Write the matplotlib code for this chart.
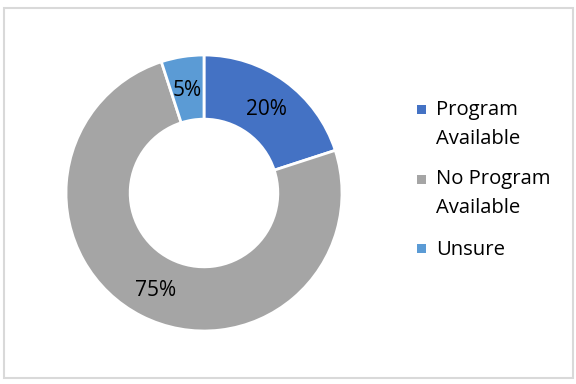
import matplotlib.pyplot as plt
from matplotlib.patches import Rectangle

labels = ["Program\nAvailable", "No Program\nAvailable", "Unsure"]
values = [20, 75, 5]
colors = ["#4472C4", "#A5A5A5", "#5B9BD5"]

plt.rcParams['font.family'] = ['Open Sans', 'DejaVu Sans']

fig = plt.figure(figsize=(5.76, 3.84), dpi=100)

# outer frame
fig.patches.append(Rectangle((3.5 / 576, 1 - 377.5 / 384), 569 / 576, 369.5 / 384,
                             transform=fig.transFigure, fill=False,
                             edgecolor="#D9D9D9", linewidth=1.5))

# donut: centre (204,193) px, outer radius 138 px
ax = fig.add_axes([66 / 576, 53 / 384, 276 / 576, 276 / 384])
wedges, texts, autotexts = ax.pie(
    values, colors=colors, startangle=90, counterclock=False,
    radius=1.0, autopct="%d%%", pctdistance=0.77,
    wedgeprops=dict(width=0.465, edgecolor="white", linewidth=2),
    textprops=dict(fontsize=15, color="#000000"))
for t in autotexts:
    t.set_verticalalignment("center_baseline")
ax.set_xlim(-1, 1)
ax.set_ylim(-1, 1)
ax.set_aspect("equal")
ax.axis("off")

# legend (marker centre y, first baseline y in px)
rows = [(109.5, 115), (179.5, 184), (248, 255)]
for lab, col, (ym, yb) in zip(labels, colors, rows):
    fig.patches.append(Rectangle((417 / 576, 1 - (ym + 4.5) / 384), 9 / 576, 9 / 384,
                                 transform=fig.transFigure, facecolor=col,
                                 edgecolor="none"))
    for i, line in enumerate(lab.split("\n")):
        fig.text(436 / 576, 1 - (yb + 29 * i) / 384, line, fontsize=14.6,
                 va="baseline", ha="left", color="#000000")

fig.savefig("out.png", dpi=100)
